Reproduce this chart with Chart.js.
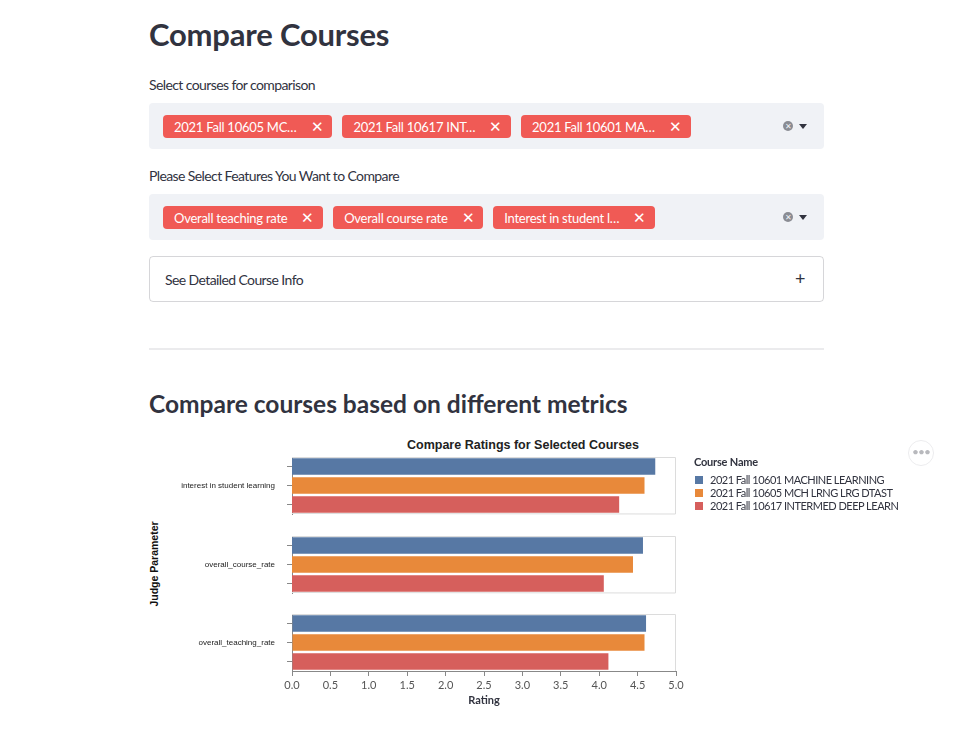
<!DOCTYPE html>
<html>
<head>
<meta charset="utf-8">
<script src="https://cdn.jsdelivr.net/npm/chart.js@4.4.0/dist/chart.umd.min.js"></script>
<style>
  body { margin: 0; background: #fff; color: #31333f; font-family: "Source Sans Pro", Lato, sans-serif; }
  #page { position: relative; width: 974px; height: 734px; overflow: hidden; }
  .abs { position: absolute; white-space: nowrap; line-height: 1; }
  h1 { position: absolute; margin: 0; left: 149px; top: 19px; font-size: 31px; font-weight: 700; line-height: 1; letter-spacing: -0.2px; }
  h3 { position: absolute; margin: 0; left: 149px; top: 392px; font-size: 24.5px; font-weight: 700; line-height: 1; }
  .label { font-size: 14px; left: 149px; letter-spacing: -0.6px; }
  .box { position: absolute; left: 149px; width: 675px; height: 46px; background: #f0f2f6; border-radius: 4px; }
  .tags { position: absolute; left: 14px; top: 12px; display: flex; gap: 10px; }
  .tag { background: #f05a55; color: #fff; height: 23px; border-radius: 4px; font-size: 13px; display: flex; align-items: center; padding: 0 9px 0 11px; box-sizing: border-box; letter-spacing: -0.25px; }
  .tag .x { margin-left: 14px; font-size: 15px; }
  .clear { position: absolute; left: 634px; top: 18px; width: 10px; height: 10px; border-radius: 50%; background: #8a8c93; color: #f0f2f6; font-size: 8px; line-height: 10px; text-align: center; }
  .caret { position: absolute; left: 650px; top: 21px; width: 0; height: 0; border-left: 4px solid transparent; border-right: 4px solid transparent; border-top: 5px solid #31333f; }
  #expander { position: absolute; left: 149px; top: 256px; width: 675px; height: 46px; box-sizing: border-box; border: 1px solid rgba(49,51,63,0.2); border-radius: 4px; }
  #expander .t { position: absolute; left: 15px; top: 16px; font-size: 14px; line-height: 1; letter-spacing: -0.6px; }
  #expander .p { position: absolute; left: 645px; top: 12px; font-size: 18px; line-height: 1; }
  #rule { position: absolute; left: 149px; top: 348px; width: 675px; height: 2px; background: #ebebed; }
  canvas { position: absolute; }
  #chartTitle { position: absolute; left: 523px; top: 445px; transform: translate(-50%, -50%); font: bold 12.5px "Liberation Sans", Arial, sans-serif; color: #222; white-space: nowrap; }
  #yTitle { position: absolute; left: 154px; top: 564px; transform: translate(-50%, -50%) rotate(-90deg); font: bold 10.5px "Liberation Sans", Arial, sans-serif; color: #111; white-space: nowrap; }
  #legend { position: absolute; left: 694px; top: 455px; font-size: 11px; letter-spacing: -0.5px; }
  #legend .head { font-weight: 700; margin-bottom: 4px; line-height: 14px; letter-spacing: -0.2px; }
  #legend .item { display: flex; align-items: center; height: 13px; }
  #legend .sw { width: 8px; height: 8px; margin-right: 7px; margin-left: 1px; }
  #more { position: absolute; left: 908px; top: 440px; width: 26px; height: 26px; box-sizing: border-box; border: 1px solid #ececee; border-radius: 50%; color: #b8b9bd; font-size: 12px; text-align: center; line-height: 22px; letter-spacing: -1px; }
</style>
</head>
<body>
<div id="page">
  <h1>Compare Courses</h1>
  <div class="abs label" style="top:78px">Select courses for comparison</div>
  <div class="box" style="top:103px"><div class="tags" id="courseTags"></div><div class="clear">✕</div><div class="caret"></div></div>
  <div class="abs label" style="top:169px">Please Select Features You Want to Compare</div>
  <div class="box" style="top:194px"><div class="tags" id="featureTags"></div><div class="clear">✕</div><div class="caret"></div></div>
  <div id="expander"><span class="t">See Detailed Course Info</span><span class="p">+</span></div>
  <div id="rule"></div>
  <h3>Compare courses based on different metrics</h3>

  <div id="chartTitle">Compare Ratings for Selected Courses</div>
  <div id="yTitle">Judge Parameter</div>
  <canvas id="panel0" width="560" height="59" style="left:140px; top:456px"></canvas>
  <canvas id="panel1" width="560" height="59" style="left:140px; top:535px"></canvas>
  <canvas id="panel2" width="560" height="98" style="left:140px; top:613px"></canvas>
  <div id="legend"><div class="head">Course Name</div></div>
  <div id="more">•••</div>
</div>
<script>
// selections shown in the two multiselect boxes
var courseTags = ["2021 Fall 10605 MC…", "2021 Fall 10617 INT…", "2021 Fall 10601 MA…"];
var featureTags = ["Overall teaching rate", "Overall course rate", "Interest in student l…"];

// chart data
var courses = ["2021 Fall 10601 MACHINE LEARNING", "2021 Fall 10605 MCH LRNG LRG DTAST", "2021 Fall 10617 INTERMED DEEP LEARN"];
var metrics = ["interest in student learning", "overall_course_rate", "overall_teaching_rate"];
var rating10601 = [4.73, 4.57, 4.61];
var rating10605 = [4.59, 4.44, 4.59];
var rating10617 = [4.26, 4.06, 4.12];
var courseColors = ["#5778a4", "#e8893a", "#d65f5c"];

function addTags(id, list) {
  var box = document.getElementById(id);
  list.forEach(function (t) {
    var el = document.createElement('div');
    el.className = 'tag';
    el.innerHTML = '<span></span><span class="x">✕</span>';
    el.firstChild.textContent = t;
    box.appendChild(el);
  });
}
addTags('courseTags', courseTags);
addTags('featureTags', featureTags);

var legend = document.getElementById('legend');
courses.forEach(function (c, i) {
  var row = document.createElement('div');
  row.className = 'item';
  row.innerHTML = '<span class="sw" style="background:' + courseColors[i] + '"></span><span></span>';
  row.lastChild.textContent = c;
  legend.appendChild(row);
});

// light frame on top/right (and bottom for the upper panels)
var panelFrame = {
  id: 'panelFrame',
  afterDatasetsDraw: function (chart, args, opts) {
    var a = chart.chartArea, ctx = chart.ctx;
    ctx.save();
    ctx.strokeStyle = '#dcdcdc';
    ctx.lineWidth = 1;
    ctx.beginPath();
    ctx.moveTo(a.left, a.top + 0.5);
    ctx.lineTo(a.right - 0.5, a.top + 0.5);
    ctx.lineTo(a.right - 0.5, a.bottom);
    if (!opts.last) ctx.lineTo(a.left, a.bottom - 0.5);
    ctx.stroke();
    ctx.restore();
  }
};

// row header of each facet
var facetLabel = {
  id: 'facetLabel',
  afterDraw: function (chart, args, opts) {
    var a = chart.chartArea, ctx = chart.ctx;
    ctx.save();
    ctx.font = '8px "Liberation Sans", Arial, sans-serif';
    ctx.fillStyle = '#222';
    ctx.textAlign = 'right';
    ctx.textBaseline = 'middle';
    ctx.fillText(opts.text, a.left - 17, (a.top + a.bottom) / 2);
    ctx.restore();
  }
};

metrics.forEach(function (m, i) {
  var last = i === metrics.length - 1;
  new Chart(document.getElementById('panel' + i), {
    type: 'bar',
    data: {
      labels: courses,
      datasets: [{
        data: [rating10601[i], rating10605[i], rating10617[i]],
        backgroundColor: courseColors,
        categoryPercentage: 1,
        barPercentage: 0.88
      }]
    },
    options: {
      indexAxis: 'y',
      responsive: false,
      animation: false,
      layout: { padding: { left: 147, right: 24, top: 1, bottom: last ? 0 : 1 } },
      plugins: {
        legend: { display: false },
        tooltip: { enabled: false },
        panelFrame: { last: last },
        facetLabel: { text: m }
      },
      scales: {
        x: {
          min: 0, max: 5,
          display: last,
          grid: { drawOnChartArea: false, tickLength: 5, color: '#888' },
          border: { color: '#888' },
          ticks: {
            stepSize: 0.5, padding: 3, color: '#555',
            font: { family: '"Source Sans Pro", Lato, sans-serif', size: 11 },
            callback: function (v) { return v.toFixed(1); }
          },
          title: {
            display: true, text: 'Rating', color: '#31333f', padding: { top: 0, bottom: 4 },
            font: { family: '"Source Sans Pro", Lato, sans-serif', size: 11, weight: 'bold' }
          },
          afterFit: function (s) { if (last) s.height = 40; }
        },
        y: {
          grid: { offset: false, drawOnChartArea: false, tickLength: 5, color: '#888' },
          border: { color: '#888' },
          ticks: { display: false },
          afterFit: function (s) { s.width = 5; }
        }
      }
    },
    plugins: [panelFrame, facetLabel]
  });
});
</script>
</body>
</html>
